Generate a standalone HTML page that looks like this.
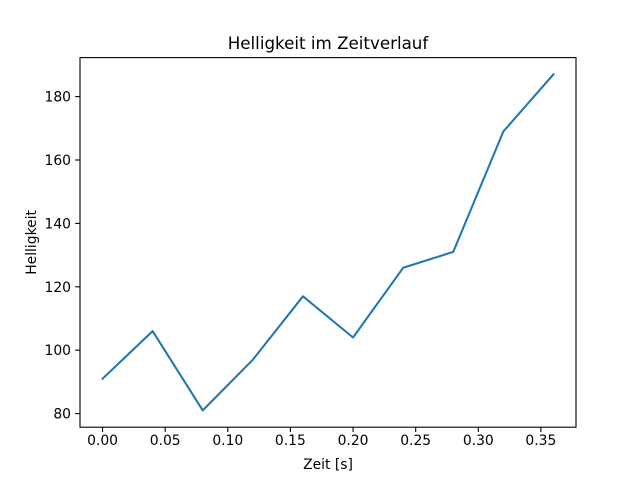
<!DOCTYPE html>
<html><head><style>body{margin:0;background:#fff}svg{display:block}</style></head><body>
<svg width="640" height="480" xmlns="http://www.w3.org/2000/svg" font-family="DejaVu Sans, Liberation Sans, sans-serif">
<rect width="640" height="480" fill="#fff"/>
<polyline fill="none" stroke="#1f77b4" stroke-width="2.08" stroke-linejoin="round" stroke-linecap="square" points="102.55,378.7 152.65,331.15 202.75,410.4 252.85,359.7 302.95,296.3 353.05,337.5 403.15,267.8 453.25,251.9 503.35,131.5 553.45,74.4"/>
<rect x="80" y="57.6" width="496" height="369.6" fill="none" stroke="#000" stroke-width="1.1"/>
<g stroke="#000" stroke-width="1.1">
<line x1="102.55" y1="427.2" x2="102.55" y2="432"/><line x1="165.2" y1="427.2" x2="165.2" y2="432"/><line x1="227.8" y1="427.2" x2="227.8" y2="432"/><line x1="290.4" y1="427.2" x2="290.4" y2="432"/><line x1="353.05" y1="427.2" x2="353.05" y2="432"/><line x1="415.7" y1="427.2" x2="415.7" y2="432"/><line x1="478.3" y1="427.2" x2="478.3" y2="432"/><line x1="540.9" y1="427.2" x2="540.9" y2="432"/>
<line x1="80" y1="413.6" x2="75.2" y2="413.6"/><line x1="80" y1="350.2" x2="75.2" y2="350.2"/><line x1="80" y1="286.8" x2="75.2" y2="286.8"/><line x1="80" y1="223.4" x2="75.2" y2="223.4"/><line x1="80" y1="160" x2="75.2" y2="160"/><line x1="80" y1="96.6" x2="75.2" y2="96.6"/>
</g>
<g font-size="13.9" text-anchor="middle" fill="#000">
<text x="102.55" y="445">0.00</text><text x="165.2" y="445">0.05</text><text x="227.8" y="445">0.10</text><text x="290.4" y="445">0.15</text><text x="353.05" y="445">0.20</text><text x="415.7" y="445">0.25</text><text x="478.3" y="445">0.30</text><text x="540.9" y="445">0.35</text>
</g>
<g font-size="13.9" text-anchor="end" fill="#000">
<text x="71" y="418.6">80</text><text x="71" y="355.2">100</text><text x="71" y="291.8">120</text><text x="71" y="228.4">140</text><text x="71" y="165">160</text><text x="71" y="101.6">180</text>
</g>
<text x="328" y="469" font-size="13.9" text-anchor="middle">Zeit [s]</text>
<text transform="translate(36,242.4) rotate(-90)" font-size="13.9" text-anchor="middle">Helligkeit</text>
<text x="328" y="49" font-size="16.7" text-anchor="middle">Helligkeit im Zeitverlauf</text>
</svg>
</body></html>
